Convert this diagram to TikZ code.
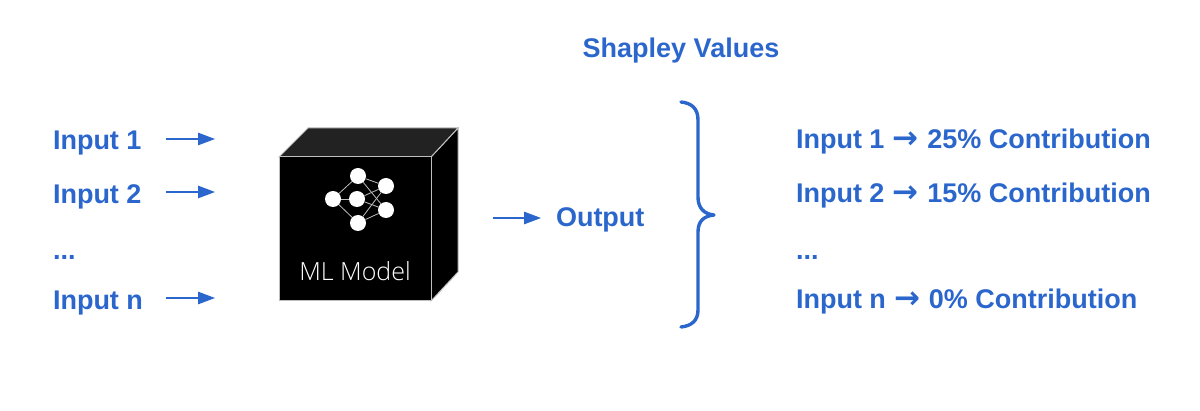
\documentclass[tikz,border=0pt]{standalone}
\usepackage{fontspec}
\setmainfont{Liberation Sans}
\newfontfamily\arrowfont{DejaVu Sans}
\newfontfamily\modelfont{Open Sans Light}
\usetikzlibrary{arrows.meta}
\definecolor{blu}{HTML}{2A66CC}
\definecolor{topface}{HTML}{222222}
\definecolor{edgegrey}{HTML}{BEBEBE}
\tikzset{
 lbl/.style={anchor=base west,inner sep=0pt,outer sep=0pt,text=blu,font=\fontsize{27}{30}\selectfont\bfseries},
 flow/.style={draw=blu,line width=1.2pt,-{Triangle[length=17pt,width=12.5pt]}},
 neuron/.style={circle,fill=white,minimum size=16pt,inner sep=0pt},
 link/.style={draw=edgegrey,line width=0.8pt},
 face/.style={draw=edgegrey,line width=1pt,fill=black}
}
\newcommand{\arr}{\hspace{1pt}{\arrowfont\fontsize{31}{30}\selectfont →}\hspace{1pt}}
\begin{document}
\begin{tikzpicture}[x=1pt,y=-1pt]
\useasboundingbox (0,0) rectangle (1200,411);
% cube
\path[face] (431,157) -- (458,128) -- (458,272) -- (431,301) -- cycle;
\path[face,fill=topface] (279,157) -- (308,128) -- (458,128) -- (431,157) -- cycle;
\path[face] (279,157) rectangle (431,301);
% network
\node[neuron] (n1) at (358,176) {};
\node[neuron] (n2) at (386,186) {};
\node[neuron] (n3) at (333,199) {};
\node[neuron] (n4) at (357,199) {};
\node[neuron] (n5) at (386,210) {};
\node[neuron] (n6) at (358,223) {};
\foreach \a/\b in {n3/n1,n3/n4,n3/n6,n1/n2,n1/n5,n4/n2,n4/n5,n6/n2,n6/n5}
  \draw[link] (\a) -- (\b);
\node[anchor=base,inner sep=0pt,text=white,font=\modelfont\fontsize{25}{28}\selectfont] (model) at (355,281) {ML Model};
% left labels
\node[lbl] (i1) at (53,149.5) {Input 1};
\node[lbl] (i2) at (53,203.5) {Input 2};
\node[lbl] (i3) at (53,260) {...};
\node[lbl] (in) at (53,310) {Input n};
\coordinate (a1s) at (166,139); \coordinate (a1e) at (215,139);
\coordinate (a2s) at (166,192); \coordinate (a2e) at (215,192);
\coordinate (a3s) at (166,298); \coordinate (a3e) at (215,298);
\draw[flow] (a1s) -- (a1e);
\draw[flow] (a2s) -- (a2e);
\draw[flow] (a3s) -- (a3e);
% output
\coordinate (os) at (493,218); \coordinate (oe) at (541,218);
\draw[flow] (os) -- (oe);
\node[lbl] (out) at (556,227) {Output};
% brace
\coordinate (bt) at (681,102);
\coordinate (bm) at (714,215);
\coordinate (bb) at (681,327);
\draw[blu,line width=3.4pt,line join=round,line cap=round] (bt) .. controls (691,103) and (698,108) .. (698,120)
  -- (698,197) .. controls (698,208) and (704,214) .. (bm)
  .. controls (704,216) and (698,221) .. (698,232)
  -- (698,310) .. controls (698,321) and (691,326) .. (bb);
% title and results
\node[lbl,anchor=base] (title) at (681,58) {Shapley Values};
\node[lbl] (r1) at (796,149) {Input 1 \arr\ 25\% Contribution};
\node[lbl] (r2) at (796,203) {Input 2 \arr\ 15\% Contribution};
\node[lbl] (r3) at (796,260) {...};
\node[lbl] (r4) at (796,309) {Input n \arr\ 0\% Contribution};
\end{tikzpicture}
\end{document}
